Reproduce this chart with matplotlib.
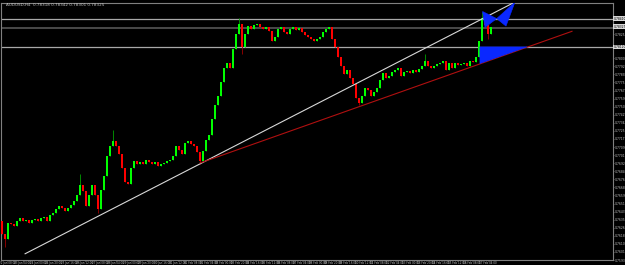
import matplotlib
matplotlib.use("Agg")
from matplotlib import pyplot as plt
from matplotlib.patches import Polygon
import pandas as pd

# close prices, one per bar
closes = [
    0.7620, 0.7615, 0.7632, 0.7630, 0.7628, 0.7634, 0.7637, 0.7634, 0.7635, 0.7632,
    0.7635, 0.7636, 0.7634, 0.7637, 0.7638, 0.7634, 0.7640, 0.7642, 0.7646, 0.7649,
    0.7647, 0.7644, 0.7647, 0.7650, 0.7654, 0.7660, 0.7670, 0.7664, 0.7649, 0.7660,
    0.7670, 0.7660, 0.7646, 0.7665, 0.7680, 0.7700, 0.7710, 0.7716, 0.7710, 0.7702,
    0.7688, 0.7674, 0.7672, 0.7688, 0.7695, 0.7692, 0.7694, 0.7692, 0.7696, 0.7694,
    0.7692, 0.7694, 0.7690, 0.7692, 0.7693, 0.7695, 0.7696, 0.7700, 0.7710, 0.7706,
    0.7702, 0.7714, 0.7716, 0.7712, 0.7710, 0.7704, 0.7695, 0.7705, 0.7717, 0.7722,
    0.7738, 0.7752, 0.7762, 0.7776, 0.7790, 0.7796, 0.7790, 0.7810, 0.7825, 0.7835,
    0.7812, 0.7825, 0.7833, 0.7830, 0.7834, 0.7835, 0.7832, 0.7830, 0.7832, 0.7828,
    0.7818, 0.7822, 0.7830, 0.7832, 0.7827, 0.7825, 0.7830, 0.7832, 0.7829, 0.7831,
    0.7827, 0.7824, 0.7822, 0.7820, 0.7818, 0.7820, 0.7822, 0.7827, 0.7830, 0.7832,
    0.7820, 0.7812, 0.7802, 0.7792, 0.7784, 0.7788, 0.7780, 0.7774, 0.7760, 0.7755,
    0.7762, 0.7770, 0.7768, 0.7762, 0.7766, 0.7770, 0.7778, 0.7785, 0.7780, 0.7782,
    0.7786, 0.7788, 0.7790, 0.7782, 0.7786, 0.7787, 0.7785, 0.7788, 0.7786, 0.7789,
    0.7792, 0.7798, 0.7792, 0.7790, 0.7792, 0.7794, 0.7796, 0.7798, 0.7788, 0.7796,
    0.7790, 0.7795, 0.7793, 0.7794, 0.7796, 0.7792, 0.7798, 0.7797, 0.7802, 0.7818,
    0.7842, 0.7834, 0.7825, 0.7832,
]
first_open = 0.7634

# visible wicks that stick out of the bodies
wick_highs = {26: 0.7682, 37: 0.7727, 79: 0.7842, 141: 0.7805, 160: 0.7848}
wick_lows = {1: 0.7607, 32: 0.7642, 66: 0.7692, 80: 0.7805, 119: 0.7752, 162: 0.7820}

# chart objects (bar index, price)
white_trend = ([7.7, 171.0], [0.7600, 0.7858])
red_trend = ([66.0, 190.0], [0.7693, 0.7828])
hlines_light = [0.7841, 0.7812]
hlines_dark = [0.78327, 0.78313]
pattern_tris = [
    [(160.2, 0.78483), (164.9, 0.7841), (161.0, 0.7832)],
    [(164.9, 0.7841), (168.0, 0.78333), (171.0, 0.7858)],
    [(159.3, 0.7812), (175.0, 0.7812), (159.3, 0.7795)],
]

symbol_line = "AUDUSD,H4  0.78318 0.78342 0.78301 0.78325"
time_labels = [d.strftime("%d %b %H:%M") for d in
               pd.date_range("2018-01-22 08:00", periods=32, freq="20h")]

BG = "black"
FG = "#c0c0c0"

fig = plt.figure(figsize=(6.25, 2.65), dpi=100, facecolor=BG)
ax = fig.add_axes([1 / 625, 5 / 265, 612 / 625, 257 / 265], facecolor=BG)

opens = [first_open] + closes[:-1]
for i, (o, c) in enumerate(zip(opens, closes)):
    up = c >= o
    body = "#00ff00" if up else "#ff0000"
    wick = "#00a000" if up else "#a00000"
    hi = wick_highs.get(i, max(o, c))
    lo = wick_lows.get(i, min(o, c))
    ax.vlines(i, lo, hi, color=wick, linewidth=0.6, zorder=2)
    ax.bar(i, max(abs(c - o), 0.00005), bottom=min(o, c), width=0.6,
           color=body, linewidth=0, zorder=3)

for y in hlines_light:
    ax.axhline(y, color="#a8a8a8", linewidth=0.9, zorder=1)
for y in hlines_dark:
    ax.axhline(y, color="#4a4a4a", linewidth=0.7, zorder=1)

ax.plot(*white_trend, color="#d8d8d8", linewidth=0.8, zorder=4)
ax.plot(*red_trend, color="#b01010", linewidth=0.8, zorder=4)
for tri in pattern_tris:
    ax.add_patch(Polygon(tri, closed=True, facecolor="#0a28ff", edgecolor="#0a28ff",
                         linewidth=0.4, zorder=5))

ax.set_xlim(-1 / 3, 203.667)
ax.set_ylim(0.7600, 0.7857)

# price scale on the right; skip ticks hidden under the object labels
marked = hlines_light + hlines_dark[:1]
yt = [0.78417 - 0.000827 * k for k in range(31)]
yt = [v for v in yt if min(abs(v - m) for m in marked) > 0.0005]
ax.yaxis.tick_right()
ax.set_yticks(yt)
ax.set_yticklabels([f"{v:.5f}" for v in yt])
for y in marked:
    ax.text(1.001, y, f"{y:.5f}", transform=ax.get_yaxis_transform(), fontsize=2.2,
            color="black", va="center", ha="left", zorder=6, clip_on=False,
            bbox=dict(boxstyle="square,pad=0.1", facecolor="#d8d8d8", edgecolor="none"))

# time scale
xt = [1.67 + 5.17 * k for k in range(len(time_labels))]
ax.set_xticks(xt)
ax.set_xticklabels(time_labels)

ax.tick_params(axis="y", colors="#808080", labelcolor=FG, labelsize=2.2,
               length=0.8, width=0.5, pad=0.3)
ax.tick_params(axis="x", colors="#808080", labelcolor=FG, labelsize=2.0,
               length=0.8, width=0.5, pad=0.2)
for s in ax.spines.values():
    s.set_color("#808080")
    s.set_linewidth(0.8)

fig.text(6 / 625, 1 - 5 / 265, symbol_line, fontsize=3, color=FG, va="center")

fig.savefig("out.png", dpi=100, facecolor=BG)
